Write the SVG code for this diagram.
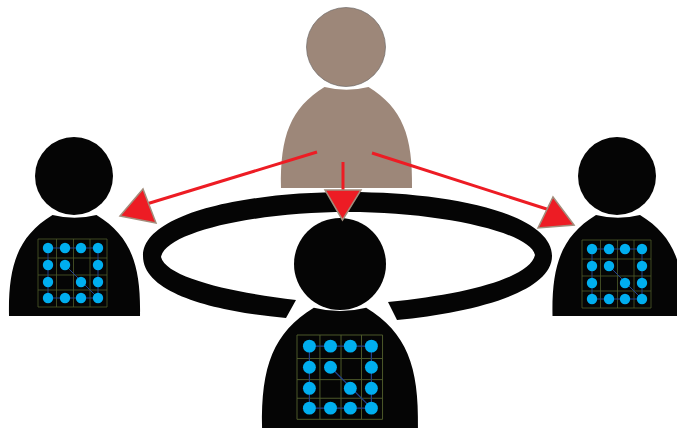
<svg xmlns="http://www.w3.org/2000/svg" xmlns:xlink="http://www.w3.org/1999/xlink" width="677" height="430" viewBox="0 0 677 430">
<style>
.dark{fill:#050505}
.tan{fill:#9d8779}
.gl{stroke:#4e5a2a;stroke-width:.8;fill:none}
.wire{stroke:#22408a;stroke-width:1;fill:none}
.dot{fill:#00aeef}
.shaft{stroke:#ed1c24;stroke-width:3;fill:none}
.head{fill:#ed1c24;stroke:#a38d7c;stroke-width:1.500}
</style>
<defs>
<path id="body" d="M-65.5,0 C-66.500,-52 -56,-80 -22,-101 A90,90 0 0 0 22,-101 C56,-80 66.500,-52 65.5,0 Z"/>
<g id="chip">
<path class="gl" d="M0,0H69V68H0ZM18.500,0V68M35.500,0V68M52,0V68M0,19H69M0,36H69M0,51H69"/>
<path class="wire" d="M10,9H60V59H10ZM27,26L60,59"/>
<g class="dot">
<circle cx="10" cy="9" r="5.200"/><circle cx="27" cy="9" r="5.200"/><circle cx="43" cy="9" r="5.200"/><circle cx="60" cy="9" r="5.200"/>
<circle cx="10" cy="26" r="5.200"/><circle cx="27" cy="26" r="5.200"/><circle cx="60" cy="26" r="5.200"/>
<circle cx="10" cy="43" r="5.200"/><circle cx="43" cy="43" r="5.200"/><circle cx="60" cy="43" r="5.200"/>
<circle cx="10" cy="59" r="5.200"/><circle cx="27" cy="59" r="5.200"/><circle cx="43" cy="59" r="5.200"/><circle cx="60" cy="59" r="5.200"/>
</g>
</g>
</defs>
<rect width="677" height="430" fill="#fff"/>
<g id="ring">
<path class="dark" d="M286,318 C220,312 143,295 143,256 C143,215 240,192 348,192 C455,192 552,215 552,256 C552,293 470,313 397,320 L388,302 C470,294 530,277 535,255 C530,232 440,212 348,212 C255,212 166,232 161,257 C166,278 235,293 296,300 Z"/>
</g>
<g id="person-top">
<circle class="tan" cx="346" cy="47" r="39.500" stroke="#6f6a68" stroke-width=".7"/>
<use xlink:href="#body" class="tan" transform="translate(346.500,188)"/>
</g>
<g id="person-left">
<circle class="dark" cx="74" cy="176" r="39"/>
<use xlink:href="#body" class="dark" transform="translate(74.500,316)"/>
<use xlink:href="#chip" transform="translate(38,239)"/>
</g>
<g id="person-right">
<circle class="dark" cx="617" cy="176" r="39"/>
<use xlink:href="#body" class="dark" transform="translate(618,316)"/>
<use xlink:href="#chip" transform="translate(582,240)"/>
</g>
<g id="person-center">
<circle class="dark" cx="340" cy="264" r="46"/>
<use xlink:href="#body" class="dark" transform="translate(340,428) scale(1.190)"/>
<use xlink:href="#chip" transform="translate(297,335) scale(1.240)"/>
</g>
<g id="connectors">
<path class="shaft" d="M317,152L140,206"/>
<polygon class="head" points="120,216 143,189 156,223"/>
<path class="shaft" d="M343,162V195"/>
<polygon class="head" points="342.500,220 325,190 361,190"/>
<path class="shaft" d="M372,153L556,212"/>
<polygon class="head" points="574,225 553,197 538,228"/>
</g>
</svg>
